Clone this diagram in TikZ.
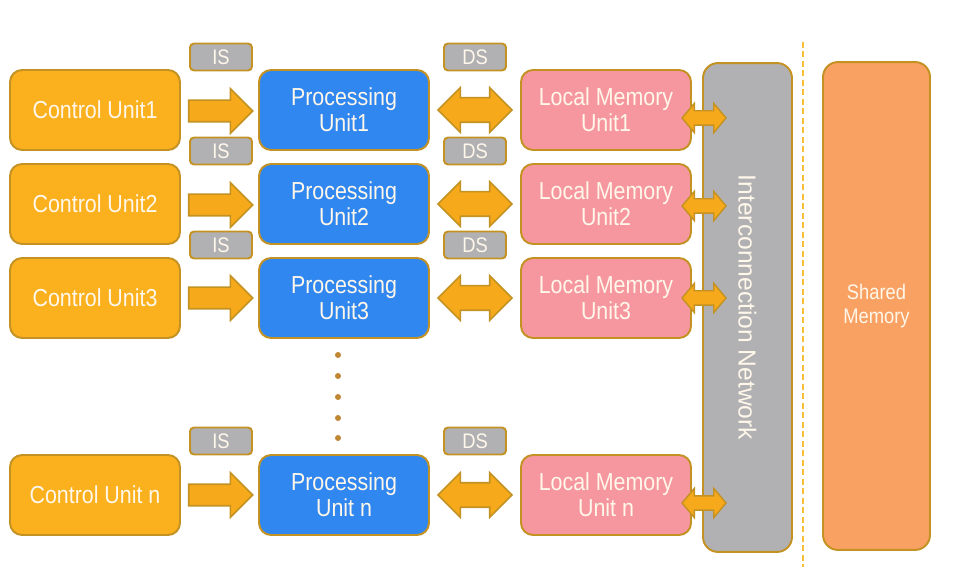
\documentclass[tikz,border=0pt]{standalone}
\usepackage{fontspec}
\usepackage{graphicx}
\setmainfont{Liberation Sans}[FakeStretch=0.87]
\newfontfamily\netfont{Liberation Sans}
\usetikzlibrary{shapes.arrows,calc}

\definecolor{cuorange}{HTML}{FBB01E}
\definecolor{publue}{HTML}{3087F0}
\definecolor{lmpink}{HTML}{F6979F}
\definecolor{netgray}{HTML}{B1B1B3}
\definecolor{smorange}{HTML}{F9A163}
\definecolor{goldline}{HTML}{C39222}
\definecolor{arrowfill}{HTML}{F6A91A}
\definecolor{labeltext}{HTML}{FFF7EA}
\definecolor{dotbrown}{HTML}{BF8633}
\definecolor{dashyellow}{HTML}{F7BE3A}

\begin{document}
\begin{tikzpicture}[x=0.02cm, y=-0.02cm,
    unit_style/.style={rounded corners=0.24cm, draw=goldline, line width=1.1pt, text=labeltext,
        minimum width=3.4cm, minimum height=1.6cm, align=center, inner sep=0pt,
        font=\fontsize{14}{15}\selectfont},
    control_style/.style={unit_style, fill=cuorange},
    processing_style/.style={unit_style, fill=publue},
    memory_style/.style={unit_style, fill=lmpink},
    tag_style/.style={rounded corners=0.08cm, draw=goldline, line width=1.1pt, fill=netgray,
        text=labeltext, minimum width=1.24cm, minimum height=0.54cm, inner sep=0pt,
        font=\fontsize{12}{12}\selectfont},
    network_style/.style={rounded corners=0.3cm, draw=goldline, line width=1.1pt, fill=netgray,
        text=labeltext, minimum width=1.78cm, minimum height=9.78cm, inner sep=0pt,
        font=\netfont\fontsize{14}{15}\selectfont},
    shared_style/.style={rounded corners=0.3cm, draw=goldline, line width=1.1pt, fill=smorange,
        text=labeltext, minimum width=2.14cm, minimum height=9.76cm, inner sep=0pt, align=center,
        font=\fontsize{12}{14}\selectfont},
    arrow_style/.style={single arrow, draw=goldline, fill=arrowfill, line width=0.9pt, inner sep=0pt,
        text height=0.4cm, text depth=0pt, single arrow head extend=0.23cm, minimum height=1.28cm,
        anchor=tail},
    double_arrow_style/.style={double arrow, draw=goldline, fill=arrowfill, line width=0.9pt, inner sep=0pt,
        text height=0.46cm, text depth=0pt, double arrow head extend=0.2cm, minimum height=1.48cm},
    small_arrow_style/.style={double arrow, draw=goldline, fill=arrowfill, line width=0.8pt, inner sep=0pt,
        text height=0.26cm, text depth=0pt, double arrow head extend=0.15cm, double arrow tip angle=100,
        minimum height=0.88cm},
    sep_style/.style={draw=dashyellow, line width=1.6pt, dash pattern=on 0.12cm off 0.07cm}]

    \useasboundingbox (0,0) rectangle (960,580);

    % units
    \node[control_style] (cu1) at (95,110) {Control Unit1};
    \node[control_style] (cu2) at (95,204) {Control Unit2};
    \node[control_style] (cu3) at (95,298) {Control Unit3};
    \node[control_style] (cun) at (95,495) {Control Unit n};

    \node[processing_style] (pu1) at (344,110) {Processing\\Unit1};
    \node[processing_style] (pu2) at (344,204) {Processing\\Unit2};
    \node[processing_style] (pu3) at (344,298) {Processing\\Unit3};
    \node[processing_style] (pun) at (344,495) {Processing\\Unit n};

    \node[memory_style] (lm1) at (606,110) {Local Memory\\Unit1};
    \node[memory_style] (lm2) at (606,204) {Local Memory\\Unit2};
    \node[memory_style] (lm3) at (606,298) {Local Memory\\Unit3};
    \node[memory_style] (lmn) at (606,495) {Local Memory\\Unit n};

    % streams
    \node[tag_style] (is1) at (221,57) {IS};
    \node[tag_style] (is2) at (221,151) {IS};
    \node[tag_style] (is3) at (221,245) {IS};
    \node[tag_style] (isn) at (221,441) {IS};
    \node[tag_style] (ds1) at (475,57) {DS};
    \node[tag_style] (ds2) at (475,151) {DS};
    \node[tag_style] (ds3) at (475,245) {DS};
    \node[tag_style] (dsn) at (475,441) {DS};

    \node[network_style] (net) at (747.5,307.5) {\rotatebox{-90}{Interconnection Network}};
    \node[shared_style] (sm) at (876.5,306) {Shared\\Memory};

    \coordinate (sep_top) at (803,42);
    \coordinate (sep_bot) at (803,567);
    \draw[sep_style] (sep_top) -- (sep_bot);

    % arrows
    \node[arrow_style] (a1) at ($(cu1.east)+(7,1)$) {};
    \node[arrow_style] (a2) at ($(cu2.east)+(7,1)$) {};
    \node[arrow_style] (a3) at ($(cu3.east)+(7,0)$) {};
    \node[arrow_style] (an) at ($(cun.east)+(7,0)$) {};

    \node[double_arrow_style] (d1) at ($(pu1.east)!0.5!(lm1.west)$) {};
    \node[double_arrow_style] (d2) at ($(pu2.east)!0.5!(lm2.west)$) {};
    \node[double_arrow_style] (d3) at ($(pu3.east)!0.5!(lm3.west)$) {};
    \node[double_arrow_style] (dn) at ($(pun.east)!0.5!(lmn.west)$) {};

    \node[small_arrow_style] (s1) at ($(lm1.east -| net.west)+(2,8)$) {};
    \node[small_arrow_style] (s2) at ($(lm2.east -| net.west)+(2,2)$) {};
    \node[small_arrow_style] (s3) at ($(lm3.east -| net.west)+(2,0)$) {};
    \node[small_arrow_style] (sn) at ($(lmn.east -| net.west)+(2,8)$) {};

    % dots
    \fill[dotbrown] (338,355) circle[radius=0.06cm];
    \fill[dotbrown] (338,376) circle[radius=0.06cm];
    \fill[dotbrown] (338,397) circle[radius=0.06cm];
    \fill[dotbrown] (338,418) circle[radius=0.06cm];
    \fill[dotbrown] (338,438) circle[radius=0.06cm];
\end{tikzpicture}
\end{document}
